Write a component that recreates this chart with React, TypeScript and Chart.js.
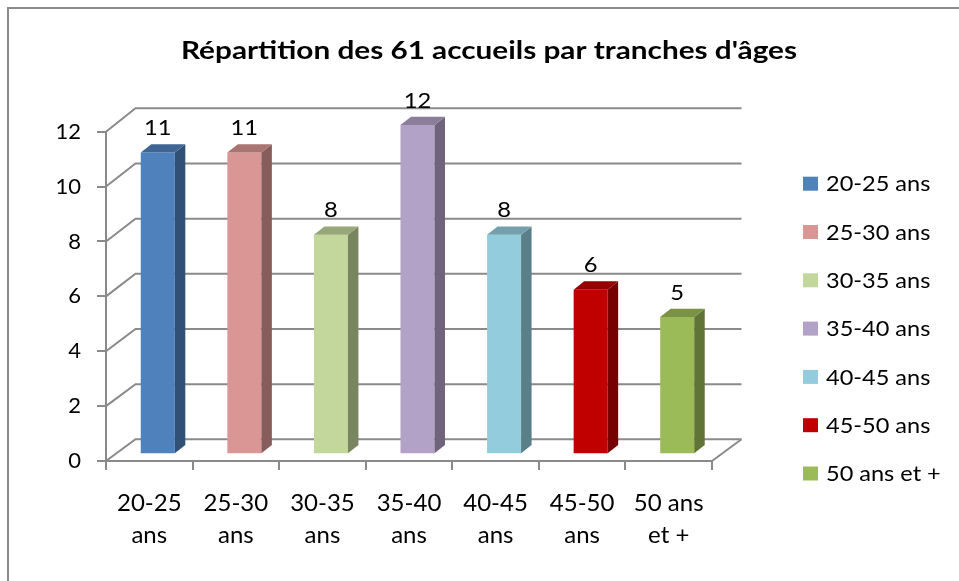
import React, { useEffect, useRef } from "react";
import { Chart, registerables } from "chart.js";

Chart.register(...registerables);

// ---- Data ----
const categories: string[][] = [
  ["20-25", "ans"],
  ["25-30", "ans"],
  ["30-35", "ans"],
  ["35-40", "ans"],
  ["40-45", "ans"],
  ["45-50", "ans"],
  ["50 ans", "et +"],
];
const legendLabels = [
  "20-25 ans",
  "25-30 ans",
  "30-35 ans",
  "35-40 ans",
  "40-45 ans",
  "45-50 ans",
  "50 ans et +",
];
const values = [11, 11, 8, 12, 8, 6, 5];
const frontColors = ["#4F81BD", "#D99694", "#C3D69B", "#B3A2C7", "#93CDDD", "#C00000", "#9BBB59"];
const yMin = 0;
const yMax = 12;
const yStep = 2;
const chartTitle = "Répartition des 61 accueils par tranches d'âges";

// ---- Style ----
const FONT = 'Lato, "Open Sans", "DejaVu Sans", sans-serif';
const GRID = "#8a8a8a";
const BAR_DX = 8.5;
const BAR_DY = -6.7;
const DEPTH_DX = 10.5;
const DEPTH_DY = -8.3;
const WALL_DX = 29.5;
const wallDy = (frac: number) => -(21.7 + 1.7 * frac);

function shade(hex: string, f: number): string {
  const n = parseInt(hex.slice(1), 16);
  const r = Math.round(((n >> 16) & 255) * f);
  const g = Math.round(((n >> 8) & 255) * f);
  const b = Math.round((n & 255) * f);
  return `rgb(${r},${g},${b})`;
}

function stretchedText(ctx: CanvasRenderingContext2D, text: string, x: number, y: number, sx: number) {
  ctx.save();
  ctx.translate(x, y);
  ctx.scale(sx, 1);
  ctx.fillText(text, 0, 0);
  ctx.restore();
}

const excel3d = {
  id: "excel3d",
  beforeDatasetsDraw(chart: any) {
    const { ctx, chartArea: a, scales } = chart;
    const y = scales.y;
    ctx.save();
    ctx.strokeStyle = GRID;
    ctx.lineWidth = 2;
    for (let v = yMin; v <= yMax; v += yStep) {
      const py = y.getPixelForValue(v);
      const wy = wallDy((v - yMin) / (yMax - yMin));
      ctx.beginPath();
      ctx.moveTo(a.left, py);
      ctx.lineTo(a.left + WALL_DX, py + wy);
      ctx.lineTo(a.right + WALL_DX, py + wy);
      ctx.stroke();
    }
    const p0 = y.getPixelForValue(yMin);
    ctx.beginPath();
    ctx.moveTo(a.right, p0);
    ctx.lineTo(a.right + WALL_DX, p0 + wallDy(0));
    ctx.stroke();
    ctx.restore();
    ctx.save();
    ctx.translate(BAR_DX, BAR_DY);
  },
  afterDatasetsDraw(chart: any) {
    const ctx = chart.ctx;
    ctx.restore();
    const meta = chart.getDatasetMeta(0);
    ctx.save();
    meta.data.forEach((bar: any, i: number) => {
      const { x, y: top, base, width } = bar.getProps(["x", "y", "base", "width"], true);
      const l = x - width / 2 + BAR_DX;
      const r = x + width / 2 + BAR_DX;
      const t = top + BAR_DY;
      const b = base + BAR_DY;
      ctx.fillStyle = shade(frontColors[i], 0.62);
      ctx.beginPath();
      ctx.moveTo(r, t);
      ctx.lineTo(r + DEPTH_DX, t + DEPTH_DY);
      ctx.lineTo(r + DEPTH_DX, b + DEPTH_DY);
      ctx.lineTo(r, b);
      ctx.closePath();
      ctx.fill();
      ctx.fillStyle = shade(frontColors[i], 0.78);
      ctx.beginPath();
      ctx.moveTo(l, t);
      ctx.lineTo(l + DEPTH_DX, t + DEPTH_DY);
      ctx.lineTo(r + DEPTH_DX, t + DEPTH_DY);
      ctx.lineTo(r, t);
      ctx.closePath();
      ctx.fill();
      ctx.fillStyle = "#000";
      ctx.font = `22px ${FONT}`;
      ctx.textAlign = "center";
      ctx.textBaseline = "alphabetic";
      stretchedText(ctx, String(values[i]), (l + r) / 2, t - 17.5, 1.08);
    });
    ctx.restore();
  },
  afterDraw(chart: any) {
    const ctx = chart.ctx;
    ctx.save();
    // title
    ctx.fillStyle = "#000";
    ctx.font = `bold 25px ${FONT}`;
    ctx.textAlign = "center";
    ctx.textBaseline = "alphabetic";
    const tw = ctx.measureText(chartTitle).width;
    stretchedText(ctx, chartTitle, 489, 59, 616 / tw);
    // legend
    ctx.font = `21px ${FONT}`;
    ctx.textAlign = "left";
    ctx.textBaseline = "middle";
    legendLabels.forEach((lab, i) => {
      const by = 176.7 + i * 48.3;
      ctx.fillStyle = frontColors[i];
      ctx.fillRect(803, by, 15, 14);
      ctx.fillStyle = "#000";
      stretchedText(ctx, lab, 826, by + 8, 1.12);
    });
    // outer border
    ctx.strokeStyle = GRID;
    ctx.lineWidth = 2;
    ctx.beginPath();
    ctx.moveTo(8, 581);
    ctx.lineTo(8, 8);
    ctx.lineTo(959, 8);
    ctx.stroke();
    ctx.restore();
  },
};

export default function App() {
  const ref = useRef<HTMLCanvasElement | null>(null);
  useEffect(() => {
    if (!ref.current) return;
    const chart = new Chart(ref.current, {
      type: "bar",
      data: {
        labels: categories,
        datasets: [
          {
            data: values,
            backgroundColor: frontColors,
            borderWidth: 0,
            categoryPercentage: 1,
            barPercentage: 0.393,
            clip: false as any,
          },
        ],
      },
      options: {
        animation: false,
        responsive: false,
        devicePixelRatio: 1,
        layout: { padding: { left: 0, right: 247, top: 131.7, bottom: 0 } },
        plugins: {
          legend: { display: false },
          title: { display: false },
          tooltip: { enabled: false },
        },
        scales: {
          x: {
            grid: {
              display: true,
              offset: true,
              drawOnChartArea: false,
              drawTicks: true,
              tickLength: 9,
              color: GRID,
              lineWidth: 2,
            },
            border: { display: true, color: GRID, width: 2 },
            ticks: {
              color: "#000",
              font: { family: FONT, size: 24, lineHeight: 1.3 },
              padding: 18,
              maxRotation: 0,
              autoSkip: false,
            },
            afterFit: (s: any) => {
              s.height = 120;
            },
          },
          y: {
            min: yMin,
            max: yMax,
            grid: {
              display: true,
              drawOnChartArea: false,
              drawTicks: true,
              tickLength: 9,
              color: GRID,
              lineWidth: 2,
            },
            border: { display: true, color: GRID, width: 2 },
            ticks: {
              stepSize: yStep,
              color: "#000",
              font: { family: FONT, size: 22 },
              padding: 16,
            },
            afterFit: (s: any) => {
              s.width = 106;
            },
          },
        },
      },
      plugins: [excel3d],
    });
    return () => chart.destroy();
  }, []);
  return (
    <div style={{ position: "fixed", left: 0, top: 0, width: 959, height: 581, background: "#fff" }}>
      <canvas ref={ref} width={959} height={581} style={{ display: "block" }} />
    </div>
  );
}
